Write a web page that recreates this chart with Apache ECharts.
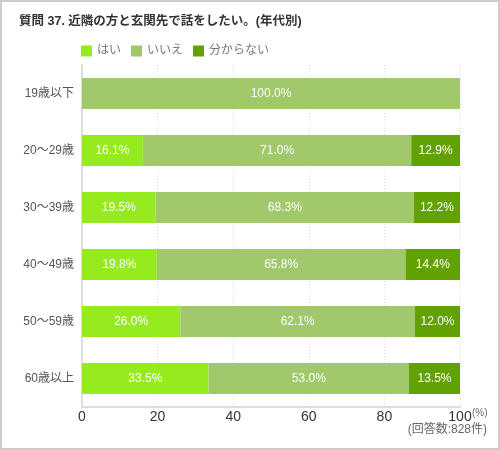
<!DOCTYPE html>
<html>
<head>
<meta charset="utf-8">
<script src="https://cdn.jsdelivr.net/npm/echarts@6/dist/echarts.min.js"></script>
<style>
html,body{margin:0;padding:0;background:#fff;}
#c{width:500px;height:450px;}
</style>
</head>
<body>
<div id="c"></div>
<script>
var categories = ['19歳以下', '20～29歳', '30～39歳', '40～49歳', '50～59歳', '60歳以上'];
var seriesNames = ['はい', 'いいえ', '分からない'];
var yesValues = [0, 16.1, 19.5, 19.8, 26.0, 33.5];
var noValues = [100.0, 71.0, 68.3, 65.8, 62.1, 53.0];
var unknownValues = [0, 12.9, 12.2, 14.4, 12.0, 13.5];
var xTicks = [0, 20, 40, 60, 80, 100];

var colors = ['#96EB1E', '#A1C86B', '#62A102'];
var FONT = '"Liberation Sans", "Noto Sans CJK JP", sans-serif';

function mkSeries(name, data, color) {
  return {
    name: name,
    type: 'bar',
    stack: 'total',
    barWidth: 31,
    data: data,
    itemStyle: { color: color },
    emphasis: { disabled: true },
    label: {
      show: true,
      position: 'inside',
      color: '#fff',
      fontSize: 12,
      fontFamily: FONT,
      formatter: function (p) { return p.value > 0 ? p.value.toFixed(1) + '%' : ''; }
    }
  };
}

var chart = echarts.init(document.getElementById('c'), null, { renderer: 'canvas' });
chart.setOption({
  animation: false,
  textStyle: { fontFamily: FONT },
  title: {
    text: '質問 37. 近隣の方と玄関先で話をしたい。(年代別)',
    left: 14,
    top: 10,
    textStyle: { fontSize: 12.5, fontWeight: 'bold', color: '#333', fontFamily: FONT }
  },
  legend: {
    data: seriesNames,
    left: 76,
    top: 40,
    itemWidth: 11,
    itemHeight: 11,
    itemGap: 10,
    icon: 'rect',
    textStyle: { fontSize: 12, color: '#777', fontFamily: FONT }
  },
  grid: { left: 82, right: 40, top: 65, bottom: 43, containLabel: false },
  xAxis: {
    type: 'value',
    min: xTicks[0],
    max: xTicks[xTicks.length - 1],
    interval: 20,
    axisLine: { show: true, lineStyle: { color: '#ddd', width: 2 } },
    axisTick: { show: false },
    axisLabel: { color: '#333', fontSize: 14, margin: 3, fontFamily: FONT },
    splitLine: { show: true, lineStyle: { color: '#ddd', type: [1, 2], width: 1 } }
  },
  yAxis: {
    type: 'category',
    data: categories,
    inverse: true,
    axisLine: { show: true, lineStyle: { color: '#ddd', width: 2 } },
    axisTick: { show: false },
    axisLabel: { color: '#555', fontSize: 12, margin: 8, fontFamily: FONT }
  },
  series: [
    mkSeries(seriesNames[0], yesValues, colors[0]),
    mkSeries(seriesNames[1], noValues, colors[1]),
    mkSeries(seriesNames[2], unknownValues, colors[2])
  ],
  graphic: [
    {
      type: 'rect',
      shape: { x: 1, y: 1, width: 498, height: 448 },
      style: { fill: 'none', stroke: '#ccc', lineWidth: 2 },
      silent: true
    },
    {
      type: 'text',
      left: 472,
      top: 408,
      style: { text: '(%)', fontSize: 10, fill: '#666', fontFamily: FONT }
    },
    {
      type: 'text',
      right: 13,
      top: 424,
      style: { text: '(回答数:828件)', fontSize: 12, fill: '#666', fontFamily: FONT }
    }
  ]
});
</script>
</body>
</html>
